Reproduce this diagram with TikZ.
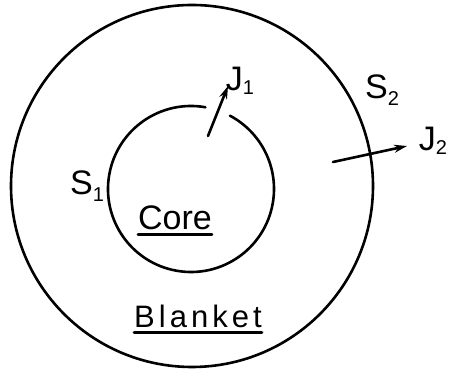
\documentclass[tikz,border=0pt]{standalone}
\usepackage{fontspec}
\setmainfont{Liberation Sans}
\usetikzlibrary{arrows.meta}
\begin{document}
\begin{tikzpicture}[x=1pt,y=1pt,
  ink/.style={line width=2.6pt,line cap=round},
  flux/.style={ink,-{Stealth[length=13pt,width=8pt]}},
  lbl/.style={inner sep=0pt,font=\fontsize{34}{34}\selectfont},
  sub/.style={font=\fontsize{20}{20}\selectfont}]
\useasboundingbox (0,0) rectangle (451,369);
% outer surface S2
\draw[ink] (192,183) circle[radius=181];
% inner surface S1 with gap at top
\draw[ink] (191,180) ++(80:83) arc[start angle=80,end angle=422,radius=83];
% labels
\node[lbl] (core) at (175,151) {Core};
\node[lbl,font=\fontsize{31}{31}\selectfont\addfontfeature{LetterSpace=13}] (blanket) at (198,53) {Blanket};
\node[lbl] (s1) at (87,183) {S\raisebox{-7pt}{\fontsize{20}{20}\selectfont 1}};
\node[lbl] (s2) at (382,279) {S\raisebox{-7pt}{\fontsize{20}{20}\selectfont 2}};
\node[lbl] (j1) at (240,288) {J\raisebox{-4pt}{\fontsize{20}{20}\selectfont 1}};
\node[lbl] (j2) at (433,228) {J\raisebox{-4pt}{\fontsize{20}{20}\selectfont 2}};
% underlines
\draw[ink] ([yshift=-4pt]core.south west) -- ([yshift=-4pt]core.south east);
\draw[ink] ([yshift=-5pt]blanket.south west) -- ([yshift=-5pt]blanket.south east);
% currents
\coordinate (j1s) at (208,233);
\coordinate (j1e) at (228,283);
\coordinate (j2s) at (333,207);
\coordinate (j2e) at (407,223);
\draw[flux] (j1s) -- (j1e);
\draw[flux] (j2s) -- (j2e);
\end{tikzpicture}
\end{document}
